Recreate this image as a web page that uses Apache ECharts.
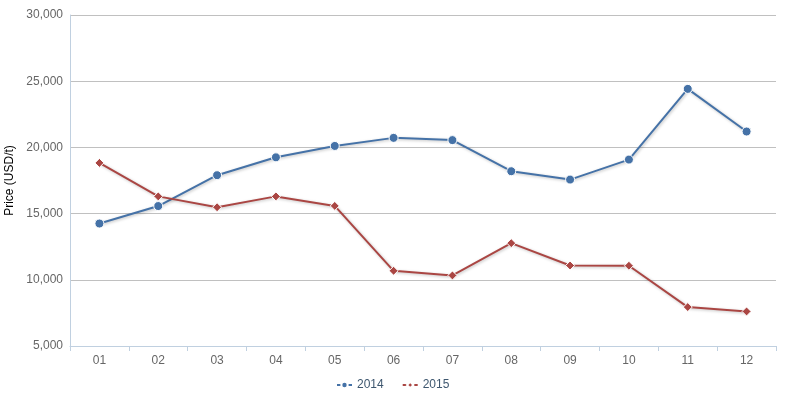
<!DOCTYPE html>
<html><head><meta charset="utf-8">
<script src="https://cdn.jsdelivr.net/npm/echarts@6/dist/echarts.min.js"></script>
<style>html,body{margin:0;padding:0;background:#fff}#c{width:803px;height:398px}</style>
</head><body><div id="c"></div>
<script>
const categories = ['01','02','03','04','05','06','07','08','09','10','11','12'];
const s2014 = [14250, 15570, 17900, 19250, 20110, 20720, 20550, 18200, 17570, 19080, 24420, 21200];
const s2015 = [18830, 16300, 15480, 16300, 15580, 10680, 10330, 12770, 11080, 11060, 7940, 7610];
const yTicks = {min: 5000, max: 30000, interval: 5000};

const chart = echarts.init(document.getElementById('c'));
chart.setOption({
  animation: false,
  textStyle: {fontFamily: 'Arial, "Liberation Sans", sans-serif'},
  grid: {left: 70, right: 27, top: 15, bottom: 52, containLabel: false, outerBoundsMode: 'none'},
  legend: {
    top: 374, left: 331, itemWidth: 15, itemHeight: 8, itemGap: 18,
    textStyle: {color: '#3E576F', fontSize: 12},
    data: ['2014', '2015']
  },
  xAxis: {
    type: 'category', data: categories, boundaryGap: true,
    axisLine: {lineStyle: {color: '#C0D0E0'}},
    axisTick: {show: true, lineStyle: {color: '#C0D0E0'}, length: 5},
    axisLabel: {color: '#666', fontSize: 12, margin: 9}
  },
  yAxis: {
    type: 'value', min: yTicks.min, max: yTicks.max, interval: yTicks.interval,
    name: 'Price (USD/t)', nameLocation: 'middle', nameGap: 54, nameRotate: 90,
    nameTextStyle: {color: '#000', fontSize: 12},
    axisLine: {show: true, lineStyle: {color: '#C0D0E0'}},
    axisTick: {show: false},
    splitLine: {lineStyle: {color: '#C0C0C0'}},
    axisLabel: {color: '#666', fontSize: 12, margin: 7,
      formatter: v => v.toLocaleString('en-US')}
  },
  series: [
    {name: '2014', type: 'line', data: s2014, symbol: 'circle', symbolSize: 9,
     color: '#4572A7',
     lineStyle: {width: 2, shadowColor: 'rgba(0,0,0,0.25)', shadowBlur: 3, shadowOffsetX: 1, shadowOffsetY: 1},
     itemStyle: {color: '#4572A7', borderColor: '#fff', borderWidth: 1}},
    {name: '2015', type: 'line', data: s2015, symbol: 'diamond', symbolSize: 9,
     color: '#AA4643',
     lineStyle: {width: 2, shadowColor: 'rgba(0,0,0,0.25)', shadowBlur: 3, shadowOffsetX: 1, shadowOffsetY: 1},
     itemStyle: {color: '#AA4643', borderColor: '#fff', borderWidth: 1}}
  ]
});
</script></body></html>
